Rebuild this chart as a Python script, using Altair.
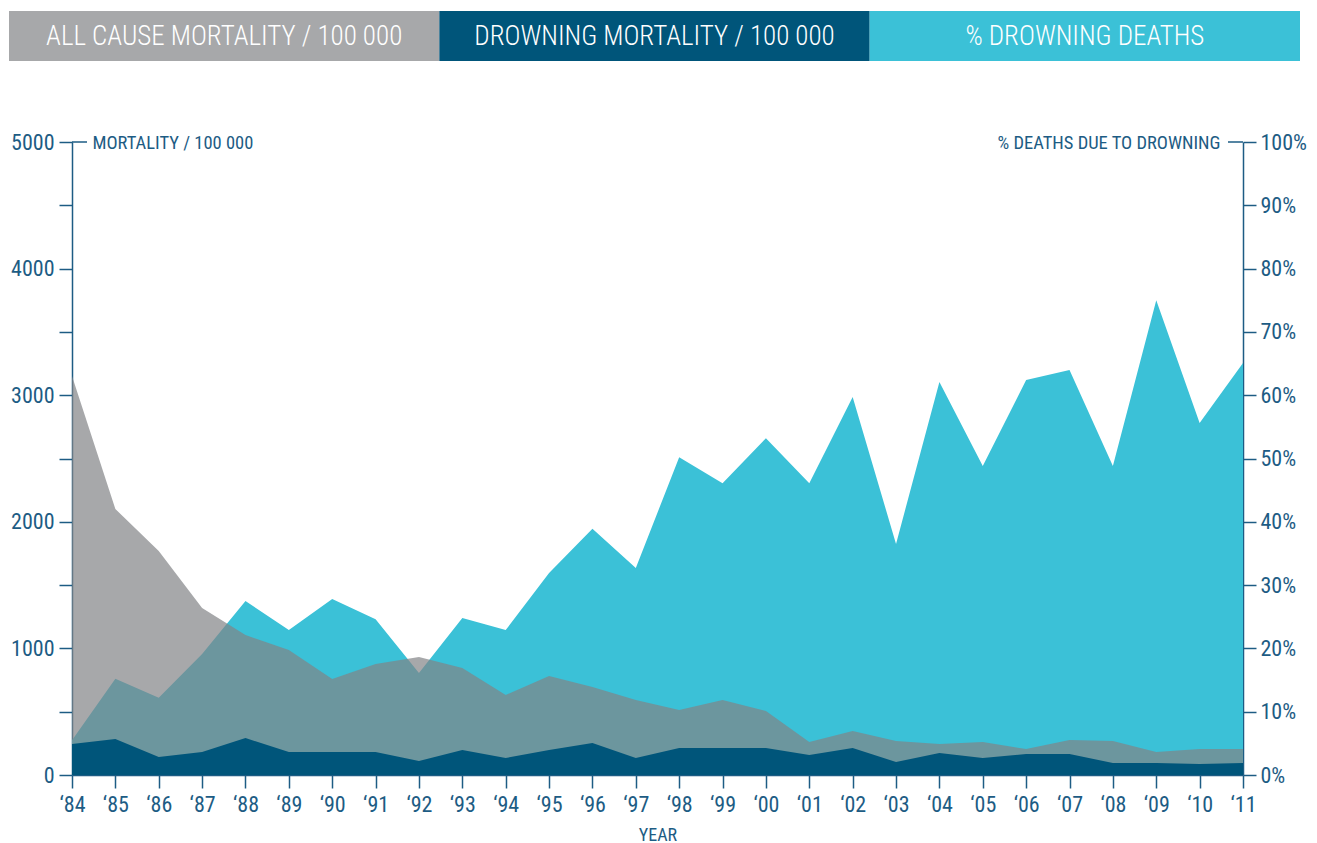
import altair as alt
import pandas as pd

years = list(range(1984, 2012))
all_cause = [3152, 2101, 1769, 1319, 1106, 987, 758, 877, 932, 845, 632, 782, 695, 592,
             513, 592, 506, 261, 348, 269, 245, 261, 205, 276, 269, 182, 205, 205]
drowning = [245, 284, 142, 182, 292, 182, 182, 182, 111, 197, 134, 197, 253, 134,
            213, 213, 213, 158, 213, 103, 174, 134, 166, 166, 95, 95, 87, 95]
pct_drowning = [5.5, 15.2, 12.2, 19.1, 27.5, 22.9, 27.8, 24.6, 16.1, 24.8, 22.9, 31.9, 38.9, 32.7,
                50.2, 46.1, 53.2, 46.1, 59.7, 36.5, 62.1, 48.8, 62.4, 64.0, 48.8, 75.0, 55.6, 65.1]

legend_labels = ["ALL CAUSE MORTALITY / 100 000", "DROWNING MORTALITY / 100 000", "% DROWNING DEATHS"]
legend_colors = ["#A7A8AA", "#00557A", "#3BC1D7"]

FONT = "Liberation Sans Narrow, Roboto Condensed, Arial Narrow, sans-serif"
AXIS_COLOR = "#1D5C84"
GRAY = "#818386"
DARK = "#00557A"
CYAN = "#3BC1D7"

df = pd.DataFrame({"year": years, "all_cause": all_cause, "drowning": drowning, "pct": pct_drowning})
leg = pd.DataFrame({"label": legend_labels})

W, H = 1171, 633

# Legend band (its band scale reaches left of the plot origin, over the axis area)
leg_x = alt.X("label:N", sort=legend_labels, axis=None,
              scale=alt.Scale(range=[-63, 1228], paddingInner=0, paddingOuter=0))
leg_rect = alt.Chart(leg).mark_rect().encode(
    x=leg_x,
    color=alt.Color("label:N", scale=alt.Scale(domain=legend_labels, range=legend_colors), legend=None),
)
leg_text = alt.Chart(leg).mark_text(color="white", fontSize=27, font=FONT, fontWeight=300).encode(
    x=leg_x,
    y=alt.value(26),
    text="label:N",
)
legend = alt.layer(leg_rect, leg_text).properties(width=W, height=50)

base = alt.Chart(df).encode(
    x=alt.X("year:Q", scale=alt.Scale(domain=[1984, 2011], nice=False),
            axis=alt.Axis(values=years, labelExpr="'\u2018' + slice(toString(datum.value), 2)",
                          title="YEAR", titleFontSize=18, titlePadding=11, labelPadding=6,
                          labelFontSize=22, labelFlush=False, labelOverlap=False))
)

cyan = base.mark_area(color=CYAN).encode(
    y=alt.Y("pct:Q", scale=alt.Scale(domain=[0, 100], nice=False),
            axis=alt.Axis(orient="right", values=list(range(0, 101, 10)),
                          labelExpr="datum.value + '%'", labelFontSize=22, labelPadding=4,
                          title="% DEATHS DUE TO DROWNING", titleAngle=0, titleAlign="right",
                          titleBaseline="middle", titleX=-23, titleY=0, titleFontSize=18.5))
)

gray = base.mark_area(color=GRAY, opacity=0.7).encode(
    y=alt.Y("all_cause:Q", scale=alt.Scale(domain=[0, 5000], nice=False),
            axis=alt.Axis(orient="left", values=list(range(0, 5001, 500)),
                          labelExpr="datum.value % 1000 == 0 ? toString(datum.value) : ''",
                          labelFontSize=22, labelPadding=5,
                          title="MORTALITY / 100 000", titleAngle=0, titleAlign="left",
                          titleBaseline="middle", titleX=20, titleY=0, titleFontSize=18.5))
)

dark = base.mark_area(color=DARK).encode(
    y=alt.Y("drowning:Q", scale=alt.Scale(domain=[0, 5000], nice=False), axis=None)
)

one = pd.DataFrame({"a": [0]})
rule_left = alt.Chart(one).mark_rule(color=AXIS_COLOR, strokeWidth=1.5).encode(
    x=alt.value(0), x2=alt.value(15), y=alt.value(0))
rule_right = alt.Chart(one).mark_rule(color=AXIS_COLOR, strokeWidth=1.5).encode(
    x=alt.value(W - 15), x2=alt.value(W), y=alt.value(0))

main = alt.layer(cyan, gray, dark, rule_left, rule_right).resolve_scale(y="independent").properties(
    width=W, height=H)

chart = alt.vconcat(legend, main, spacing=70).properties(
    padding={"left": 1, "top": 3, "right": 0, "bottom": 0}
).configure_view(stroke=None).configure_axis(
    labelFont=FONT, titleFont=FONT, labelColor=AXIS_COLOR, titleColor=AXIS_COLOR,
    domainColor=AXIS_COLOR, tickColor=AXIS_COLOR, tickSize=13, domainWidth=1.5, tickWidth=1.5,
    grid=False, titleFontWeight="normal", labelFontWeight="normal"
)

chart.save("out.html", embed_options={"renderer": "svg", "actions": False})
